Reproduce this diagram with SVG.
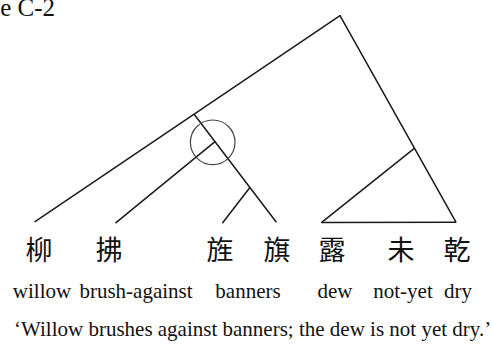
<svg xmlns="http://www.w3.org/2000/svg" width="493" height="345" viewBox="0 0 493 345">
<style>
.e{stroke:#1a1a1a;stroke-width:1.5;fill:none;stroke-linecap:round}
.c{stroke:#444;stroke-width:1.2;fill:none}
.cjk{font-family:"Noto Sans CJK TC","Noto Sans CJK SC",sans-serif;font-size:27px;fill:#111;text-anchor:middle}
.g{font-family:"Liberation Serif",serif;font-size:21px;fill:#111;text-anchor:middle}
.s{font-family:"Liberation Serif",serif;font-size:21px;fill:#111}
</style>
<rect width="493" height="345" fill="#fff"/>
<text class="s" x="55" y="16" text-anchor="end" style="font-size:25px">e C-2</text>
<g id="connectors">
<line class="e" x1="340" y1="15.7" x2="35" y2="221.7"/>
<line class="e" x1="340" y1="15.7" x2="455.7" y2="221.7"/>
<line class="e" x1="194.3" y1="114.5" x2="276" y2="221.7"/>
<line class="e" x1="215" y1="141.7" x2="116" y2="222.7"/>
<line class="e" x1="249.5" y1="188" x2="222.7" y2="222.7"/>
<line class="e" x1="414" y1="148.7" x2="321.7" y2="222.3"/>
<line class="e" x1="321.7" y1="222.5" x2="455.7" y2="222.3" stroke-width="1.8"/>
<circle class="c" cx="212.7" cy="142.3" r="22.3"/>
</g>
<g id="willow"><text class="cjk" x="39" y="260">柳</text><text class="g" x="42" y="298">willow</text></g>
<g id="brush-against"><text class="cjk" x="109" y="260">拂</text><text class="g" x="136" y="298">brush-against</text></g>
<g id="banners"><text class="cjk" x="220" y="260">旌</text><text class="cjk" x="277" y="260">旗</text><text class="g" x="248" y="298">banners</text></g>
<g id="dew"><text class="cjk" x="332" y="260">露</text><text class="g" x="335" y="298">dew</text></g>
<g id="not-yet"><text class="cjk" x="401" y="260">未</text><text class="g" x="403" y="298">not-yet</text></g>
<g id="dry"><text class="cjk" x="457" y="260">乾</text><text class="g" x="458" y="298">dry</text></g>
<text class="s" x="14" y="336">‘Willow brushes against banners; the dew is not yet dry.’</text>
</svg>
